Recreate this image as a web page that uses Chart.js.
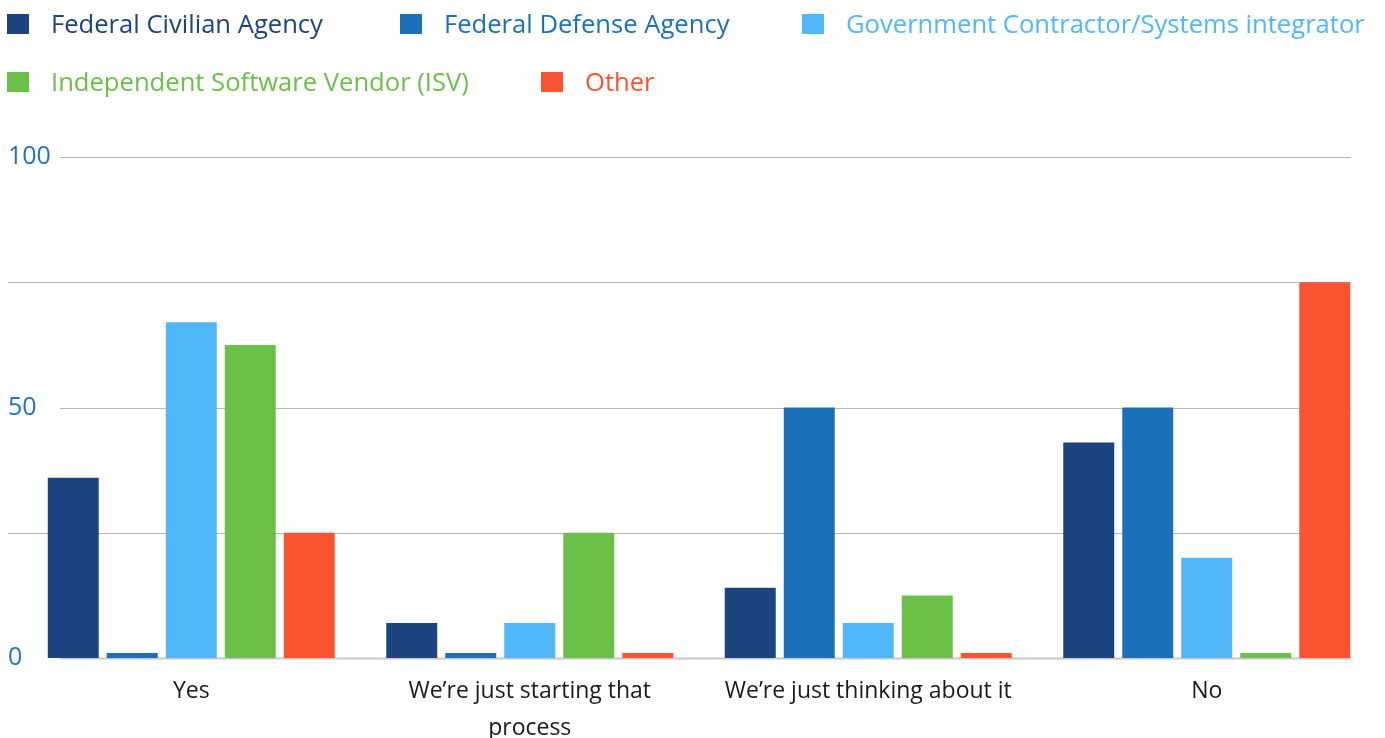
<!DOCTYPE html>
<html>
<head>
<meta charset="utf-8">
<script src="https://cdn.jsdelivr.net/npm/chart.js@4.4.1/dist/chart.umd.min.js"></script>
<style>
  html, body { margin: 0; padding: 0; background: #fff; }
  #wrap { position: relative; width: 1385px; height: 738px; overflow: hidden; }
  #legend { position: absolute; left: 0; top: 0; width: 1385px; height: 120px; font-family: "Open Sans", sans-serif; font-size: 25.6px; }
  .lg-box { position: absolute; width: 22px; height: 20px; }
  .lg-text { position: absolute; line-height: 34px; white-space: nowrap; }
  canvas { position: absolute; left: 0; top: 0; }
</style>
</head>
<body>
<div id="wrap">
  <canvas id="c" width="1385" height="738"></canvas>
  <div id="legend"></div>
</div>
<script>
// ---- data ----
const categories = ['Yes', ['We\u2019re just starting that', 'process'], 'We\u2019re just thinking about it', 'No'];
const seriesNames = ['Federal Civilian Agency', 'Federal Defense Agency', 'Government Contractor/Systems integrator', 'Independent Software Vendor (ISV)', 'Other'];
const civilian = [36, 7, 14, 43];
const defense = [0, 0, 50, 50];
const contractor = [67, 7, 7, 20];
const isv = [62.5, 25, 12.5, 0];
const other = [25, 0, 0, 75];
const yTickLabels = [0, 50, 100];

// ---- styles ----
const colors = ['#1b4480', '#1a70b9', '#50b7f8', '#6bc148', '#f95330'];
const legendPos = [[7, 0], [400, 0], [802, 0], [7, 1], [541, 1]];

const values = [civilian, defense, contractor, isv, other];

const gridPlugin = {
  id: 'customGrid',
  beforeDatasetsDraw(chart) {
    const y = chart.scales.y;
    const ctx = chart.ctx;
    const area = chart.chartArea;
    ctx.save();
    y.ticks.forEach(t => {
      const py = Math.round(y.getPixelForValue(t.value));
      const labeled = yTickLabels.includes(t.value);
      const x0 = labeled ? area.left + 38 : area.left - 14;
      const x1 = area.right - 25;
      ctx.beginPath();
      if (t.value === 0) {
        ctx.strokeStyle = '#c8c8c8';
        ctx.lineWidth = 2;
      } else {
        ctx.strokeStyle = '#b8b8b8';
        ctx.lineWidth = 1;
      }
      ctx.moveTo(x0, py + 0.5);
      ctx.lineTo(x1, py + 0.5);
      ctx.stroke();
    });
    ctx.restore();
  }
};

const chart = new Chart(document.getElementById('c'), {
  type: 'bar',
  data: {
    labels: categories,
    datasets: seriesNames.map((n, i) => ({
      label: n,
      data: values[i],
      backgroundColor: colors[i],
      borderWidth: 0,
      minBarLength: 5,
      categoryPercentage: 0.8715,
      barPercentage: 0.864
    }))
  },
  options: {
    responsive: false,
    animation: false,
    layout: { padding: { left: 8, right: 9, top: 157, bottom: 0 } },
    plugins: { legend: { display: false }, tooltip: { enabled: false } },
    scales: {
      x: {
        grid: { display: false, drawTicks: false },
        border: { display: false },
        ticks: {
          color: '#1a1a1a',
          padding: 15,
          maxRotation: 0,
          autoSkip: false,
          font: { family: '"Open Sans", sans-serif', size: 23, lineHeight: 1.6 }
        },
        afterFit(scale) { scale.height = 80; }
      },
      y: {
        min: 0,
        max: 100,
        grid: { display: false, drawTicks: false },
        border: { display: false },
        ticks: {
          stepSize: 25,
          mirror: true,
          crossAlign: 'near',
          padding: -14,
          color: '#1f74bd',
          font: { family: '"Open Sans", sans-serif', size: 25 },
          callback: v => yTickLabels.includes(v) ? String(v) : ''
        },
        afterFit(scale) { scale.width = 14; }
      }
    }
  },
  plugins: [gridPlugin]
});

// HTML legend built from chart datasets
const legend = document.getElementById('legend');
chart.data.datasets.forEach((ds, i) => {
  const [x, row] = legendPos[i];
  const box = document.createElement('div');
  box.className = 'lg-box';
  box.style.left = x + 'px';
  box.style.top = (14 + row * 58) + 'px';
  box.style.background = ds.backgroundColor;
  const txt = document.createElement('div');
  txt.className = 'lg-text';
  txt.style.left = (x + 44) + 'px';
  txt.style.top = (7 + row * 58) + 'px';
  txt.style.color = ds.backgroundColor;
  txt.textContent = ds.label;
  legend.appendChild(box);
  legend.appendChild(txt);
});
</script>
</body>
</html>
